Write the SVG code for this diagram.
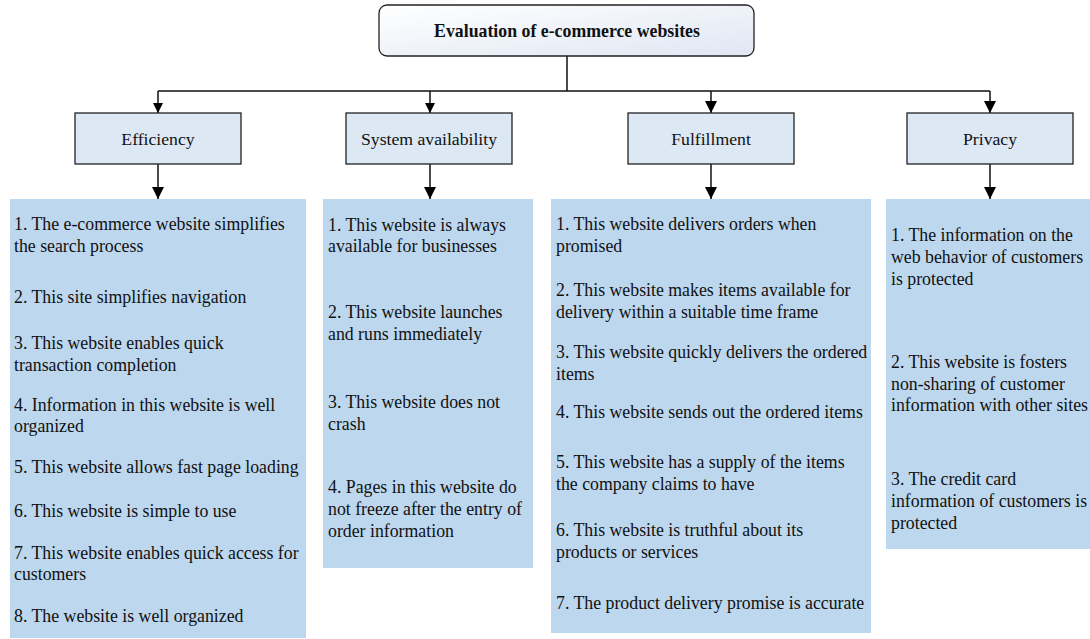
<svg xmlns="http://www.w3.org/2000/svg" width="1090" height="639" viewBox="0 0 1090 639">
<defs>
<linearGradient id="g" x1="0" y1="0" x2="1" y2="1">
<stop offset="0" stop-color="#ffffff"/>
<stop offset="1" stop-color="#dfe7f3"/>
</linearGradient>
<marker id="a" viewBox="0 0 10 10" refX="10" refY="5" markerWidth="10" markerHeight="10" markerUnits="userSpaceOnUse" orient="auto">
<path d="M0,0 L10,5 L0,10 z" fill="#000"/>
</marker>
<marker id="b" viewBox="0 0 10 10" refX="10" refY="5" markerWidth="14" markerHeight="12" markerUnits="userSpaceOnUse" orient="auto">
<path d="M0,0 L10,5 L0,10 z" fill="#000"/>
</marker>
</defs>
<style>
text{font-family:'Liberation Serif','Times New Roman',serif;font-size:17.8px;fill:#111}
.t{font-weight:bold;text-anchor:middle}
.c{text-anchor:middle;font-size:17.7px}
.cat{fill:#dde8f5;stroke:#222;stroke-width:1.3}
.col{fill:#bdd7ee}
.ln{fill:none;stroke:#111;stroke-width:1.5}
</style>
<rect width="1090" height="639" fill="#fff"/>
<g id="connectors">
<path class="ln" d="M567,56 V91 M158,91 H990"/>
<path class="ln" d="M158,91 V113" marker-end="url(#a)"/>
<path class="ln" d="M430,91 V113" marker-end="url(#a)"/>
<path class="ln" d="M711,91 V113" marker-end="url(#b)"/>
<path class="ln" d="M990,91 V113" marker-end="url(#b)"/>
<path class="ln" d="M158,164 V199" marker-end="url(#b)"/>
<path class="ln" d="M430,164 V199" marker-end="url(#b)"/>
<path class="ln" d="M711,164 V199" marker-end="url(#b)"/>
<path class="ln" d="M990,164 V199" marker-end="url(#b)"/>
</g>
<g id="root">
<rect x="379" y="5" width="375" height="51" rx="8" fill="url(#g)" stroke="#222" stroke-width="1.3"/>
<text class="t" x="567" y="37">Evaluation of e-commerce websites</text>
</g>
<g id="efficiency">
<rect class="cat" x="75" y="113" width="166" height="51"/>
<text class="c" x="158" y="145">Efficiency</text>
</g>
<g id="system-availability">
<rect class="cat" x="346" y="113" width="166" height="51"/>
<text class="c" x="429" y="145">System availability</text>
</g>
<g id="fulfillment">
<rect class="cat" x="628" y="113" width="166" height="51"/>
<text class="c" x="711" y="145">Fulfillment</text>
</g>
<g id="privacy">
<rect class="cat" x="907" y="113" width="166" height="51"/>
<text class="c" x="990" y="145">Privacy</text>
</g>
<g id="efficiency-items">
<rect class="col" x="10" y="199" width="296" height="439"/>
<text x="14" y="230">1. The e-commerce website simplifies</text>
<text x="14" y="252">the search process</text>
<text x="14" y="303">2. This site simplifies navigation</text>
<text x="14" y="349">3. This website enables quick</text>
<text x="14" y="371">transaction completion</text>
<text x="14" y="411">4. Information in this website is well</text>
<text x="14" y="432">organized</text>
<text x="14" y="473">5. This website allows fast page loading</text>
<text x="14" y="517">6. This website is simple to use</text>
<text x="14" y="559">7. This website enables quick access for</text>
<text x="14" y="580">customers</text>
<text x="14" y="622">8. The website is well organized</text>
</g>
<g id="system-availability-items">
<rect class="col" x="323" y="199" width="210" height="369"/>
<text x="328" y="231">1. This website is always</text>
<text x="328" y="252">available for businesses</text>
<text x="328" y="318">2. This website launches</text>
<text x="328" y="340">and runs immediately</text>
<text x="328" y="408">3. This website does not</text>
<text x="328" y="430">crash</text>
<text x="328" y="493">4. Pages in this website do</text>
<text x="328" y="515">not freeze after the entry of</text>
<text x="328" y="537">order information</text>
</g>
<g id="fulfillment-items">
<rect class="col" x="551" y="199" width="320" height="434"/>
<text x="556" y="230">1. This website delivers orders when</text>
<text x="556" y="252">promised</text>
<text x="556" y="296">2. This website makes items available for</text>
<text x="556" y="318">delivery within a suitable time frame</text>
<text x="556" y="358">3. This website quickly delivers the ordered</text>
<text x="556" y="380">items</text>
<text x="556" y="418">4. This website sends out the ordered items</text>
<text x="556" y="468">5. This website has a supply of the items</text>
<text x="556" y="490">the company claims to have</text>
<text x="556" y="536">6. This website is truthful about its</text>
<text x="556" y="558">products or services</text>
<text x="556" y="609">7. The product delivery promise is accurate</text>
</g>
<g id="privacy-items">
<rect class="col" x="886" y="199" width="204" height="350"/>
<text x="891" y="241">1. The information on the</text>
<text x="891" y="263">web behavior of customers</text>
<text x="891" y="285">is protected</text>
<text x="891" y="368">2. This website is fosters</text>
<text x="891" y="390">non-sharing of customer</text>
<text x="891" y="411">information with other sites</text>
<text x="891" y="485">3. The credit card</text>
<text x="891" y="507">information of customers is</text>
<text x="891" y="529">protected</text>
</g>
</svg>
